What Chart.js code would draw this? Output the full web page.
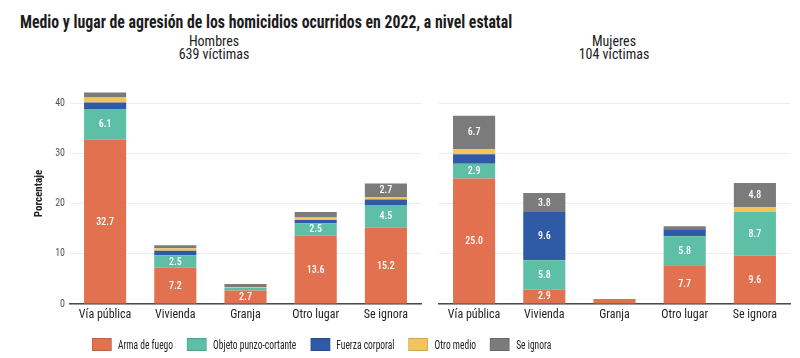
<!DOCTYPE html>
<html lang="es">
<head>
<meta charset="utf-8">
<title>Medio y lugar de agresión de los homicidios 2022</title>
<script src="https://cdn.jsdelivr.net/npm/chart.js@4.4.1/dist/chart.umd.min.js"></script>
<style>
    html, body { margin: 0; padding: 0; background: #fff; }
    #wrap { position: relative; width: 800px; height: 358px; overflow: hidden; font-family: "Roboto Condensed", "Liberation Sans Narrow", "DejaVu Sans Condensed", Roboto, sans-serif; color: #1c1c1c; }
    #title { position: absolute; left: 20px; top: 10px; font-weight: 700; font-size: 19px; white-space: nowrap; transform-origin: left top; }
    .sub { position: absolute; top: 35px; width: 200px; text-align: center; font-size: 14px; line-height: 13px; color: #222; }
    canvas { position: absolute; top: 0; }
    #chart-hombres { left: 0; }
    #chart-mujeres { left: 430px; }
    #legend { position: absolute; left: 92px; top: 336px; display: flex; align-items: center; font-size: 13.5px; color: #222; white-space: nowrap; transform-origin: left center; }
    #legend .item { display: flex; align-items: center; margin-right: 20px; }
    #legend .item:last-child { margin-right: 0; }
    #legend .box { width: 28px; height: 13px; margin-right: 9px; box-sizing: border-box; border: 1px solid rgba(0,0,0,0.15); }
</style>
</head>
<body>
<div id="wrap">
    <div id="title">Medio y lugar de agresión de los homicidios ocurridos en 2022, a nivel estatal</div>
    <div class="sub" style="left:114px">Hombres<br>639 víctimas</div>
    <div class="sub" style="left:514px">Mujeres<br>104 víctimas</div>
    <canvas id="chart-hombres" width="430" height="358"></canvas>
    <canvas id="chart-mujeres" width="370" height="358"></canvas>
    <div id="legend"></div>
</div>
<script>
const categories = ['Vía pública', 'Vivienda', 'Granja', 'Otro lugar', 'Se ignora'];
const seriesNames = ['Arma de fuego', 'Objeto punzo-cortante', 'Fuerza corporal', 'Otro medio', 'Se ignora'];
const seriesColors = ['#e2714f', '#5dbfa6', '#2f5ba6', '#f3c35c', '#7b7b7b'];
const yTicks = [0, 10, 20, 30, 40];

// Hombres (% de 639 víctimas)
const hombresArma = [32.7, 7.2, 2.7, 13.6, 15.2];
const hombresObjeto = [6.1, 2.5, 0.5, 2.5, 4.5];
const hombresFuerza = [1.3, 0.9, 0, 0.6, 1.1];
const hombresOtro = [1.0, 0.5, 0.2, 0.5, 0.5];
const hombresIgnora = [1.0, 0.6, 0.6, 1.1, 2.7];

// Mujeres (% de 104 víctimas)
const mujeresArma = [25.0, 2.9, 1.0, 7.7, 9.6];
const mujeresObjeto = [2.9, 5.8, 0, 5.8, 8.7];
const mujeresFuerza = [1.9, 9.6, 0, 1.4, 0];
const mujeresOtro = [1.0, 0, 0, 0, 1.0];
const mujeresIgnora = [6.7, 3.8, 0, 0.6, 4.8];

const labelMin = 2.5;
const narrowFont = '"Roboto Condensed", "Liberation Sans Narrow", "DejaVu Sans Condensed", Roboto, sans-serif';

// etiquetas blancas dentro de cada segmento
const segmentLabels = {
    id: 'segmentLabels',
    afterDatasetsDraw(chart) {
        const { ctx } = chart;
        ctx.save();
        ctx.font = '500 10px ' + narrowFont;
        ctx.fillStyle = '#ffffff';
        ctx.textAlign = 'center';
        ctx.textBaseline = 'middle';
        chart.data.datasets.forEach((ds, i) => {
            chart.getDatasetMeta(i).data.forEach((bar, j) => {
                const v = ds.data[j];
                if (v < labelMin) return;
                ctx.fillText(v.toFixed(1), bar.x, (bar.y + bar.base) / 2 + 0.5);
            });
        });
        ctx.restore();
    },
};

function buildDatasets(series) {
    return series.map((values, i) => ({
        label: seriesNames[i],
        data: values,
        backgroundColor: seriesColors[i],
        borderWidth: 0,
        barPercentage: 0.6,
        categoryPercentage: 1.0,
    }));
}

function panelOptions(showAxis, padding) {
    return {
        responsive: false,
        animation: false,
        layout: { padding },
        plugins: { legend: { display: false }, tooltip: { enabled: false } },
        scales: {
            x: {
                stacked: true,
                grid: { display: false, drawTicks: false },
                border: { display: true, color: '#4a4a4a', width: 1.5 },
                ticks: { font: { family: narrowFont, size: 12 }, color: '#1f1f1f', padding: 4 },
                afterFit: (scale) => { scale.height = 24; },
            },
            y: {
                stacked: true,
                min: 0,
                max: 44,
                afterBuildTicks: (axis) => { axis.ticks = yTicks.map((v) => ({ value: v })); },
                afterFit: (scale) => { scale.width = showAxis ? 41 : 9; },
                grid: { color: '#ececec', drawTicks: false },
                border: { display: false },
                ticks: { display: showAxis, font: { family: narrowFont, size: 10 }, color: '#555', padding: 5 },
                title: {
                    display: showAxis,
                    text: 'Porcentaje',
                    font: { family: narrowFont, size: 11, weight: '700' },
                    color: '#222',
                    padding: { top: 4, bottom: 4 },
                },
            },
        },
    };
}

new Chart(document.getElementById('chart-hombres'), {
    type: 'bar',
    data: {
        labels: categories,
        datasets: buildDatasets([hombresArma, hombresObjeto, hombresFuerza, hombresOtro, hombresIgnora]),
    },
    options: panelOptions(true, { left: 29, top: 83, right: 9, bottom: 30 }),
    plugins: [segmentLabels],
});

new Chart(document.getElementById('chart-mujeres'), {
    type: 'bar',
    data: {
        labels: categories,
        datasets: buildDatasets([mujeresArma, mujeresObjeto, mujeresFuerza, mujeresOtro, mujeresIgnora]),
    },
    options: panelOptions(false, { left: 0, top: 83, right: 10, bottom: 30 }),
    plugins: [segmentLabels],
});

// leyenda común
const legend = document.getElementById('legend');
seriesNames.forEach((name, i) => {
    const item = document.createElement('div');
    item.className = 'item';
    item.innerHTML = `<span class="box" style="background:${seriesColors[i]}"></span><span>${name}</span>`;
    legend.appendChild(item);
});
legend.style.transform = `scaleX(${459 / legend.scrollWidth})`;

// título condensado al ancho del original
const title = document.getElementById('title');
title.style.transform = `scaleX(${Math.min(1, 492 / title.scrollWidth)})`;
</script>
</body>
</html>
